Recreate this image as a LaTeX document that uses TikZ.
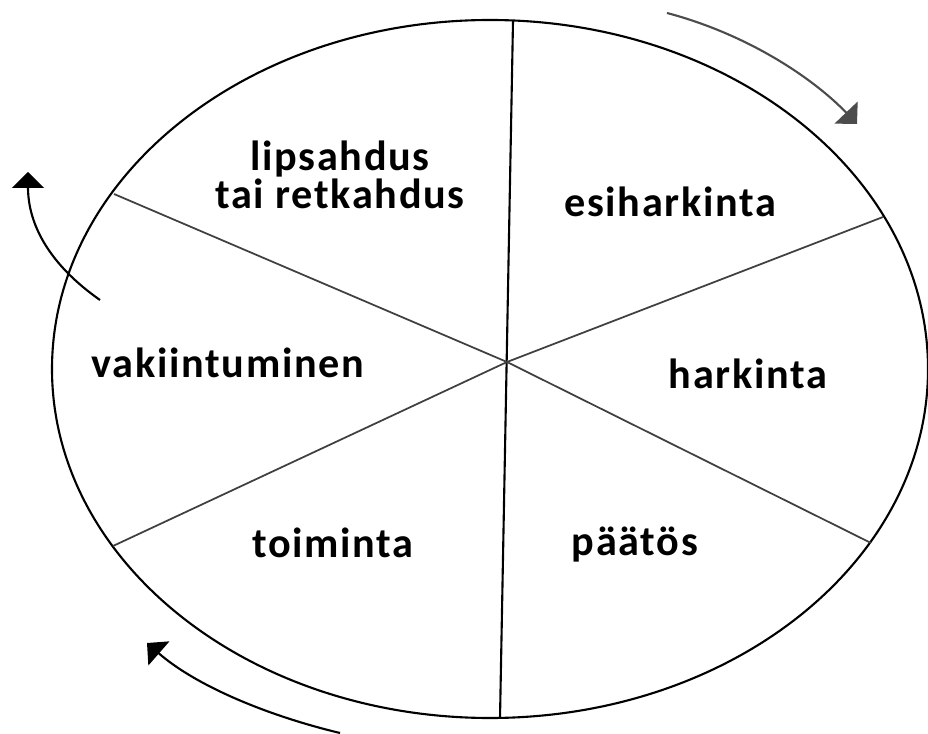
\documentclass[tikz,border=0pt]{standalone}
\usepackage{fontspec}
\setmainfont{Carlito}[LetterSpace=4]
\usetikzlibrary{arrows.meta}
\begin{document}
\begin{tikzpicture}[
    x=0.01cm, y=-0.01cm,
    rim/.style={draw, line width=0.6pt},
    spoke/.style={draw=black!75, line width=0.5pt},
    phase/.style={align=center, font=\fontsize{12}{11}\selectfont\bfseries},
    turn/.style={-{Triangle[length=4.5pt, width=9pt]}, line width=0.6pt}
]
\useasboundingbox (0,0) rectangle (928,734);
% wheel
\coordinate (c) at (507,362);
\coordinate (top) at (513,21);
\coordinate (bot) at (500,718);
\coordinate (ul) at (114,194);
\coordinate (ur) at (883,217);
\coordinate (ll) at (113,546);
\coordinate (lr) at (871,543);
\draw[rim] (490,369) ellipse [x radius=438, y radius=349];
\draw[rim] (top) -- (bot);
\draw[spoke] (ul) -- (c) -- (lr);
\draw[spoke] (ll) -- (c) -- (ur);
% phases
\node[phase] (slip) at (340,175) {lipsahdus\\tai retkahdus};
\node[phase] (pre) at (670,202) {esiharkinta};
\node[phase] (contemp) at (748,374) {harkinta};
\node[phase] (decide) at (635,545) {päätös};
\node[phase] (act) at (333,543) {toiminta};
\node[phase] (maint) at (228,363) {vakiintuminen};
% direction arrows
\coordinate (a1s) at (667,13);
\coordinate (a1e) at (857,124);
\coordinate (a2s) at (340,733);
\coordinate (a2e) at (147,643);
\coordinate (a3s) at (100,300);
\coordinate (a3e) at (28,172);
\draw[turn, draw=black!70] (a1s) .. controls (750,35) and (815,80) .. (a1e);
\draw[turn] (a2s) .. controls (265,715) and (195,685) .. (a2e);
\draw[turn] (a3s) .. controls (50,265) and (28,225) .. (a3e);
\end{tikzpicture}
\end{document}
